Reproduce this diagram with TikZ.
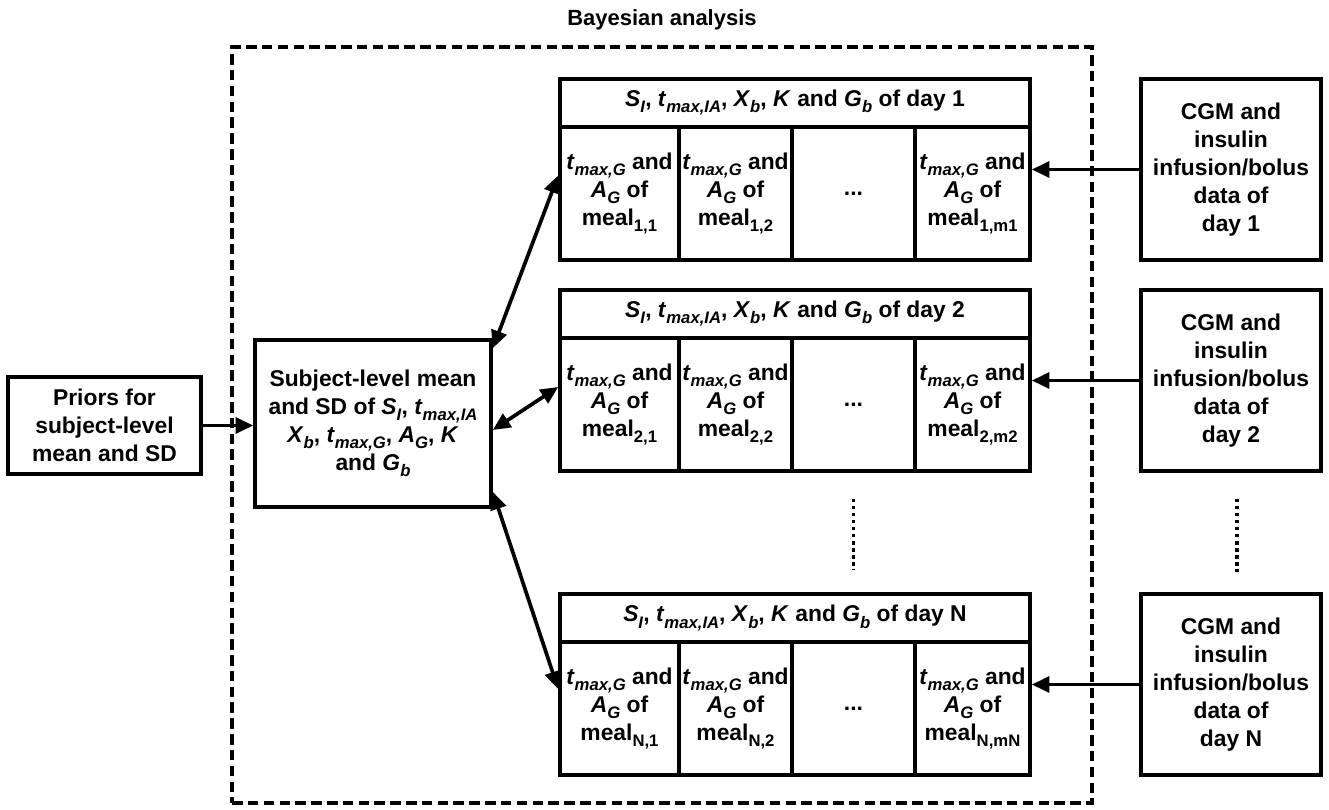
\documentclass[tikz,border=0pt]{standalone}
\usepackage{fontspec}
\setmainfont{Liberation Sans}
\usepackage{tikz}
\usetikzlibrary{arrows.meta, positioning}

\newcommand{\lowsub}[1]{\raisebox{-0.5ex}{\fontsize{9.5}{10}\selectfont #1}}
\newcommand{\vsub}[2]{\textit{#1}\lowsub{\textit{#2}}}
\newcommand{\mealtxt}[1]{\vsub{t}{max,G} and\\ \vsub{A}{G} of\\ meal\lowsub{#1}}

\tikzset{
    box/.style={draw, line width=2.1pt, align=center, inner sep=1pt,
        font=\fontsize{13}{16}\selectfont\bfseries},
    link/.style={line width=2.1pt, -{Triangle[length=10pt,width=9pt]}},
    dlink/.style={line width=2.1pt, {Triangle[length=10pt,width=9pt]}-{Triangle[length=10pt,width=9pt]}},
    dashframe/.style={draw, line width=2.1pt, dash pattern=on 6pt off 3pt},
    dotline/.style={line width=2.1pt, dash pattern=on 2pt off 2pt}
}

\begin{document}
\begin{tikzpicture}[x=0.02cm, y=-0.02cm]
    \useasboundingbox (0,0) rectangle (1329,810);
    \node[font=\fontsize{12.5}{15}\selectfont\bfseries] (title) at (662,20) {Bayesian analysis};
    \node[dashframe, minimum width=17.2cm, minimum height=15.12cm] (frame) at (662,425) {};

    \node[box, minimum width=3.86cm, minimum height=1.94cm] (prior) at (104.5,425.5) {Priors for\\subject-level\\mean and SD};
    \node[box, minimum width=4.72cm, minimum height=3.34cm] (subj) at (373,423.5)
        {Subject-level mean\\and SD of \vsub{S}{I}, \vsub{t}{max,IA}\\\vsub{X}{b}, \vsub{t}{max,G}, \vsub{A}{G}, \textit{K}\\and \vsub{G}{b}};

    % one block per day
    \foreach \d/\y in {1/79, 2/290, N/594} {
        \node[box, minimum width=9.4cm, minimum height=0.96cm] (hd\d) at (795,\y+24)
            {\vsub{S}{I}, \vsub{t}{max,IA}, \vsub{X}{b}, \textit{K} and \vsub{G}{b} of day \d};
        \node[box, minimum width=2.38cm, minimum height=2.66cm] (ca\d) at (619.5,\y+114.5) {\mealtxt{\d,1}};
        \node[box, minimum width=2.26cm, minimum height=2.66cm] (cb\d) at (735.5,\y+114.5) {\mealtxt{\d,2}};
        \node[box, minimum width=2.46cm, minimum height=2.66cm] (cc\d) at (853.5,\y+114.5) {...};
        \node[box, minimum width=2.3cm, minimum height=2.66cm] (cd\d) at (972.5,\y+114.5) {\mealtxt{\d,m\d}};
        \node[box, minimum width=3.6cm, minimum height=3.62cm] (cgm\d) at (1231,\y+90.5)
            {CGM and\\insulin\\infusion/bolus\\data of\\day \d};
        \draw[link] (cgm\d.west) -- (cgm\d.west -| cd\d.east);
    }

    \draw[link] (prior.east) -- (prior.east -| subj.west);
    \draw[dlink] ([yshift=-0.2cm]subj.north east) -- ([yshift=0.36cm]ca1.west);
    \draw[dlink] ([yshift=-0.13cm]subj.east) -- ([yshift=0.35cm]ca2.west);
    \draw[dlink] ([yshift=0.34cm]subj.south east) -- ([yshift=0.39cm]caN.west);

    \draw[dotline] ([yshift=-0.52cm]cc2.south) -- ([yshift=0.44cm]cc2.south |- hdN.north);
    \draw[dotline] ([xshift=0.12cm,yshift=-0.52cm]cgm2.south) -- ([xshift=0.12cm,yshift=0.4cm]cgm2.south |- cgmN.north);
\end{tikzpicture}
\end{document}
